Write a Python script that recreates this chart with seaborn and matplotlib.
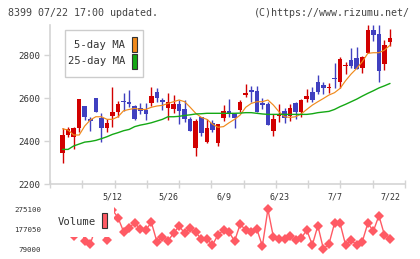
import numpy as np
import matplotlib
matplotlib.use("Agg")
import matplotlib.pyplot as plt
import seaborn as sns
from matplotlib.patches import Rectangle

nan = np.nan

dates = ["4/23", "4/24", "4/25", "4/28", "4/30", "5/1", "5/2", "5/7", "5/8", "5/9",
         "5/12", "5/13", "5/14", "5/15", "5/16", "5/19", "5/20", "5/21", "5/22", "5/23",
         "5/26", "5/27", "5/28", "5/29", "5/30", "6/2", "6/3", "6/4", "6/5", "6/6",
         "6/9", "6/10", "6/11", "6/12", "6/13", "6/16", "6/17", "6/18", "6/19", "6/20",
         "6/23", "6/24", "6/25", "6/26", "6/27", "6/30", "7/1", "7/2", "7/3", "7/4",
         "7/7", "7/8", "7/9", "7/10", "7/11", "7/14", "7/15", "7/16", "7/17", "7/18",
         "7/22"]

opens = [2361, 2343, 2428, 2417, 2459, 2563, 2504, 2600, 2505, 2462,
         2518, 2535, 2585, 2583, 2563, 2552, 2544, 2578, 2629, 2591,
         2555, 2549, 2572, 2549, 2504, 2369, 2513, 2395, 2484, 2392,
         2509, 2539, 2524, 2544, 2614, 2637, 2632, 2577, 2572, 2446,
         2516, 2539, 2516, 2577, 2536, 2595, 2628, 2674, 2663, 2648,
         2693, 2676, 2750, 2777, 2786, 2741, 2811, 2916, 2898, 2760,
         2861]
highs = [2361, 2459, 2465, 2467, 2595, 2563, 2513, 2600, 2529, 2502,
         2653, 2588, 2625, 2637, 2567, 2575, 2575, 2653, 2645, 2598,
         2622, 2614, 2590, 2590, 2510, 2501, 2513, 2501, 2498, 2479,
         2567, 2595, 2524, 2591, 2665, 2656, 2656, 2598, 2583, 2526,
         2572, 2556, 2572, 2583, 2595, 2642, 2653, 2707, 2676, 2670,
         2764, 2791, 2767, 2833, 2837, 2795, 2940, 2940, 2940, 2870,
         2921]
lows = [2361, 2296, 2420, 2361, 2443, 2498, 2448, 2536, 2397, 2443,
        2467, 2513, 2541, 2560, 2498, 2524, 2500, 2563, 2583, 2544,
        2498, 2529, 2477, 2487, 2448, 2330, 2423, 2389, 2443, 2377,
        2493, 2513, 2462, 2536, 2606, 2583, 2536, 2549, 2474, 2423,
        2490, 2485, 2493, 2502, 2513, 2583, 2583, 2618, 2618, 2622,
        2645, 2645, 2712, 2738, 2735, 2718, 2811, 2867, 2676, 2730,
        2843]
closes = [2361, 2428, 2457, 2462, 2595, 2513, 2495, 2536, 2462, 2485,
          2535, 2572, 2581, 2572, 2504, 2541, 2526, 2609, 2601, 2581,
          2581, 2572, 2541, 2502, 2448, 2493, 2439, 2462, 2451, 2479,
          2539, 2524, 2509, 2581, 2625, 2629, 2536, 2567, 2474, 2502,
          2526, 2509, 2553, 2536, 2591, 2609, 2591, 2629, 2648, 2651,
          2690, 2781, 2753, 2749, 2735, 2791, 2916, 2893, 2726, 2846,
          2880]

ma5 = [nan, 2457, 2451, 2428, 2428, 2470, 2498, 2513, 2513, 2501,
       2501, 2513, 2541, 2547, 2552, 2547, 2547, 2557, 2563, 2566,
       2575, 2583, 2591, 2583, 2557, 2529, 2510, 2501, 2479, 2464,
       2467, 2485, 2501, 2521, 2557, 2575, 2583, 2583, 2591, 2567,
       2536, 2513, 2510, 2513, 2526, 2547, 2567, 2583, 2598, 2614,
       2625, 2645, 2681, 2712, 2738, 2769, 2808, 2811, 2811, 2823,
       2846]
ma25 = [nan, 2361, 2361, 2377, 2386, 2395, 2398, 2403, 2411, 2420,
        2431, 2439, 2448, 2454, 2467, 2474, 2479, 2485, 2493, 2501,
        2513, 2513, 2515, 2519, 2522, 2526, 2527, 2529, 2529, 2529,
        2529, 2529, 2529, 2530, 2532, 2532, 2529, 2526, 2524, 2524,
        2524, 2524, 2524, 2524, 2524, 2524, 2527, 2532, 2535, 2538,
        2547, 2560, 2571, 2583, 2595, 2609, 2622, 2634, 2647, 2657,
        2668]

volume = [200000, 185000, 165000, 140750, 230000, 118500, 103700, 188000, 170000, 122000,
          272000, 233600, 164500, 184200, 209000, 176300, 172900, 210900, 115100, 136800,
          120000, 156600, 192600, 156600, 181300, 161500, 128400, 128400, 98800, 148200,
          172900, 161500, 118500, 201000, 172900, 161500, 177800, 93800, 275100, 136800,
          128400, 128400, 143200, 123500, 131900, 172900, 98800, 194100, 79000, 103700,
          206000, 206000, 98800, 123500, 98800, 115100, 206000, 167900, 243500, 148200,
          128400]

date_labels = ["5/12", "5/26", "6/9", "6/23", "7/7", "7/22"]
price_ticks = [2200, 2400, 2600, 2800]
volume_ticks = [79000, 177050, 275100]

RED = "#d20000"
BLUE = "#4040c0"
ORANGE = "#f08a1c"
GREEN = "#14a814"
VOLC = "#ff5a64"
GRID = "#d4d4d4"
TXT = "#333333"

W, H = 420, 259
sns.set_style("white")
plt.rcParams["font.family"] = ["DejaVu Sans Mono", "DejaVu Sans"]

fig = plt.figure(figsize=(W / 100, H / 100), dpi=100)


def fx(px):
    return px / W


def fy(py):
    return 1 - py / H


ax = fig.add_axes([fx(50), fy(184), fx(405) - fx(50), fy(25) - fy(184)])
axv = fig.add_axes([fx(50), fy(249), fx(405) - fx(50), fy(209.3) - fy(249)])

idx = np.arange(len(dates))
o = np.array(opens, float)
c = np.array(closes, float)
hi = np.array(highs, float)
lo = np.array(lows, float)
up = c >= o
cols = np.where(up, RED, BLUE)

ax.vlines(idx, lo, hi, colors=cols, linewidth=1.0, zorder=2)
body_bottom = np.minimum(o, c)
body_h = np.maximum(np.abs(c - o), 3.5)
ax.bar(idx, body_h, bottom=body_bottom, width=0.82, color=cols, linewidth=0, zorder=2)

sns.lineplot(x=idx, y=ma5, ax=ax, color=ORANGE, linewidth=0.85, zorder=3)
sns.lineplot(x=idx, y=ma25, ax=ax, color=GREEN, linewidth=1.0, zorder=3)

xl = (-1.26, 62.7)
ax.set_xlim(*xl)
ax.set_ylim(2200, 2940)
for s in ["top", "right"]:
    ax.spines[s].set_visible(False)
for s in ["left", "bottom"]:
    ax.spines[s].set_color(GRID)
    ax.spines[s].set_linewidth(1.2)
ax.set_yticks(price_ticks)
ax.set_yticklabels([str(t) for t in price_ticks])
ax.tick_params(axis="y", length=4.5, width=1.0, color=GRID, labelsize=6.6,
               labelcolor=TXT, pad=2.8, left=True)
ax.set_xticks(np.linspace(xl[0], xl[1], 12))
ax.set_xticklabels([])
ax.tick_params(axis="x", which="major", direction="inout", length=6, width=1.0,
               color=GRID, bottom=True)
label_pos = [dates.index(d) for d in date_labels]
ax.set_xticks(label_pos, minor=True)
ax.set_xticklabels(date_labels, minor=True)
ax.tick_params(axis="x", which="minor", length=0, pad=6.3, labelsize=6.0,
               labelcolor=TXT)
ax.set_xlabel("")
ax.set_ylabel("")
ax.grid(False)

sns.lineplot(x=idx, y=volume, ax=axv, color=VOLC, linewidth=1.0, marker="D",
             markersize=4.8, markeredgewidth=0, markerfacecolor=VOLC, clip_on=False)
axv.set_xlim(*xl)
axv.set_ylim(79000, 275100)
for s in axv.spines.values():
    s.set_visible(False)
axv.set_xticks([])
axv.set_yticks(volume_ticks)
axv.set_yticklabels([str(t) for t in volume_ticks])
axv.tick_params(axis="y", length=0, labelsize=5.4, labelcolor=TXT, pad=6.5)
axv.set_xlabel("")
axv.set_ylabel("")
axv.grid(False)

# price legend box
fig.add_artist(Rectangle((fx(65), fy(77)), fx(143) - fx(65), fy(30) - fy(77),
                         transform=fig.transFigure, facecolor="white",
                         edgecolor="#cccccc", linewidth=1.0, zorder=5))
fig.text(fx(125), fy(44.5), "5-day MA", ha="right", va="center", fontsize=7.6,
         color=TXT, zorder=6)
fig.text(fx(125), fy(61.5), "25-day MA", ha="right", va="center", fontsize=7.6,
         color=TXT, zorder=6)
fig.add_artist(Rectangle((fx(131.7), fy(51.7)), fx(137.3) - fx(131.7), fy(37.3) - fy(51.7),
                         transform=fig.transFigure, facecolor=ORANGE,
                         edgecolor="#333333", linewidth=0.8, zorder=6))
fig.add_artist(Rectangle((fx(131.7), fy(69.3)), fx(137.3) - fx(131.7), fy(54.3) - fy(69.3),
                         transform=fig.transFigure, facecolor=GREEN,
                         edgecolor="#333333", linewidth=0.8, zorder=6))

# volume legend box
fig.add_artist(Rectangle((fx(44), fy(236.6)), fx(114) - fx(44), fy(203) - fy(236.6),
                         transform=fig.transFigure, facecolor="white",
                         edgecolor="none", linewidth=0, zorder=5))
fig.text(fx(58), fy(222), "Volume", ha="left", va="center", fontsize=7.6,
         color=TXT, zorder=6)
fig.add_artist(Rectangle((fx(101.7), fy(228.3)), fx(107.3) - fx(101.7), fy(212.7) - fy(228.3),
                         transform=fig.transFigure, facecolor=VOLC,
                         edgecolor="#333333", linewidth=0.8, zorder=6))

fig.text(fx(8), fy(12.5), "8399 07/22 17:00 updated.", ha="left", va="center",
         fontsize=7.2, color="#444444")
fig.text(fx(410), fy(12.5), "(C)https://www.rizumu.net/", ha="right", va="center",
         fontsize=7.2, color="#444444")

fig.savefig("out.png", dpi=100)
